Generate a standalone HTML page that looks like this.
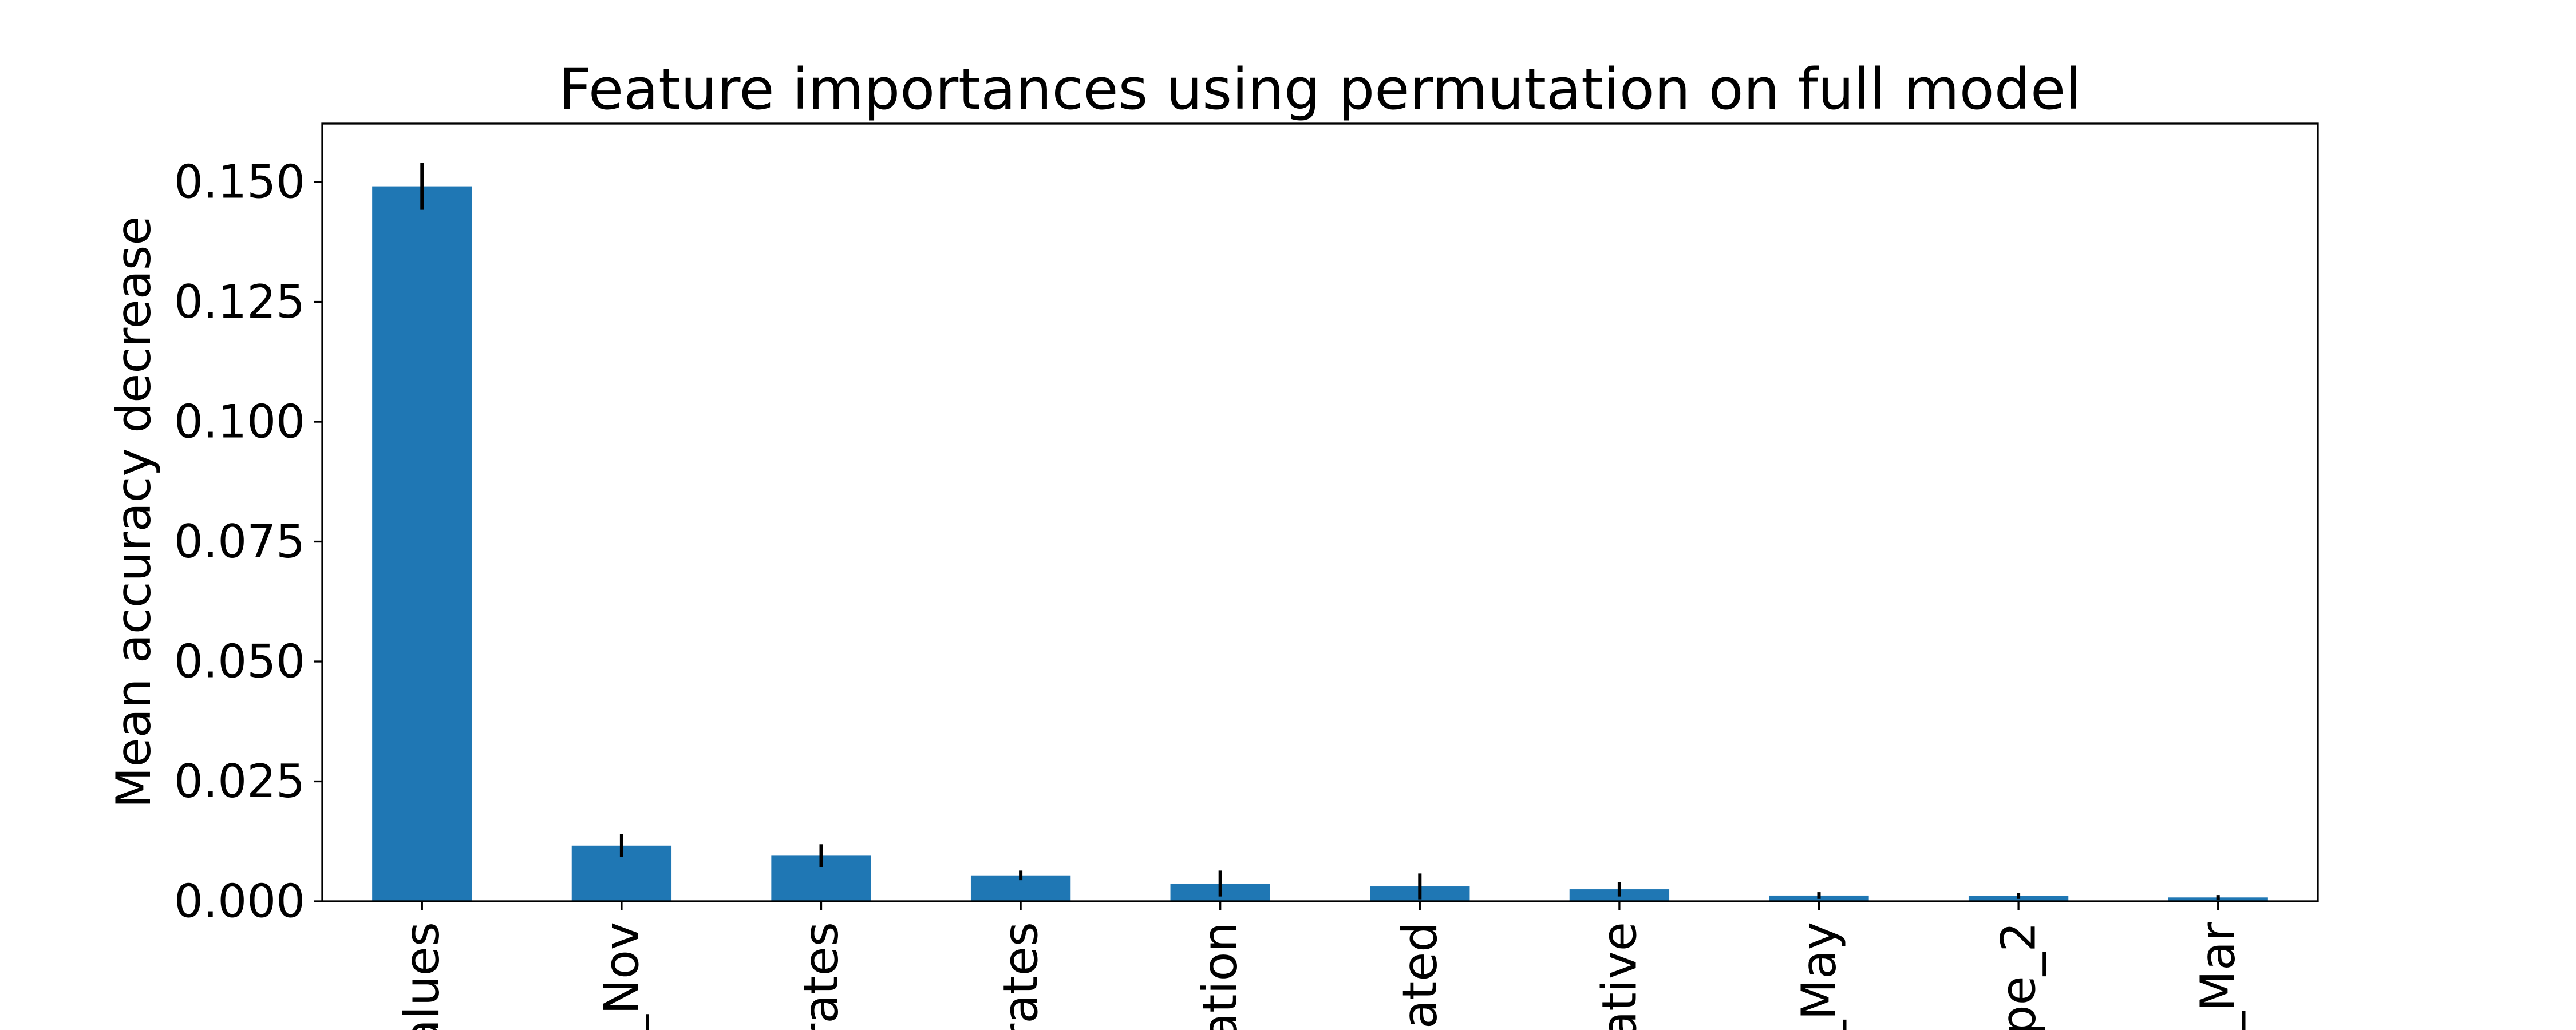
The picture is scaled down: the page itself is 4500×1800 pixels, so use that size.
<!DOCTYPE html>
<html><head><meta charset="utf-8"><style>
html,body{margin:0;padding:0;background:#fff;overflow:hidden;width:4500px;height:1800px;}
svg{display:block;font-family:"DejaVu Sans","Liberation Sans",sans-serif;}
</style></head><body>
<svg id="chart" width="4500" height="1800" viewBox="0 0 4500 1800" xmlns="http://www.w3.org/2000/svg">
<rect x="0" y="0" width="4500" height="1800" fill="#fff"/>
<text x="2306" y="190" font-size="99" text-anchor="middle" textLength="2660" lengthAdjust="spacingAndGlyphs">Feature importances using permutation on full model</text>
<text transform="translate(262,895) rotate(-90)" font-size="83" text-anchor="middle" textLength="1035" lengthAdjust="spacingAndGlyphs">Mean accuracy decrease</text>
<g id="plot"></g>
</svg>
<script>
const categories = ["PageValues","Month_Nov","Exit_rates","Bounce_rates","ProductRelated_Duration","Product_related","Administrative","Month_May","TrafficType_2","Month_Mar"];
const importances = [0.1491,0.0116,0.0095,0.0054,0.0037,0.0031,0.0025,0.0012,0.0011,0.0008];
const errors = [0.0049,0.0024,0.0024,0.0010,0.0027,0.0027,0.0015,0.0007,0.0006,0.0005];
const yTicks = [0,0.025,0.05,0.075,0.1,0.125,0.15];
const yTickLabels = ["0.000","0.025","0.050","0.075","0.100","0.125","0.150"];

const L=563,R=4049,T=216,B=1575;
const yMin=0,yMax=0.16218;
const NS="http://www.w3.org/2000/svg";
const g=document.getElementById('plot');
const step=(R-L)/categories.length;
function xPos(i){return L+step*(i+0.5);}
function yPos(v){return B-(v-yMin)/(yMax-yMin)*(B-T);}
function mk(tag,attrs){const e=document.createElementNS(NS,tag);for(const k in attrs)e.setAttribute(k,attrs[k]);g.appendChild(e);return e;}

categories.forEach((c,i)=>{
  const v=importances[i];
  const bar=mk('rect',{x:xPos(i)-step*0.25,y:yPos(v),width:step*0.5,height:B-yPos(v),fill:'#1f77b4'});
  
  
  const err=mk('line',{x1:xPos(i),x2:xPos(i),y1:yPos(v-errors[i]),y2:yPos(v+errors[i]),stroke:'#000','stroke-width':6});
  
  
  const tk=mk('line',{x1:xPos(i),x2:xPos(i),y1:B,y2:B+15,stroke:'#000','stroke-width':3.3});
  
  
  const t=mk('text',{transform:`translate(${xPos(i)},${B+36}) rotate(-90)`,'font-size':83,'text-anchor':'end','dominant-baseline':'central'});
  t.textContent=c;
  
  
});
yTicks.forEach((v,i)=>{
  const tk=mk('line',{x1:L-15,x2:L,y1:yPos(v),y2:yPos(v),stroke:'#000','stroke-width':3.3});
  
  
  const t=mk('text',{x:L-30,y:yPos(v),'font-size':80,'text-anchor':'end','dominant-baseline':'central'});
  t.textContent=yTickLabels[i];
  
  
});
const frame=mk('rect',{x:L,y:T,width:R-L,height:B-T,fill:'none',stroke:'#000','stroke-width':3.3});


</script>
</body></html>
